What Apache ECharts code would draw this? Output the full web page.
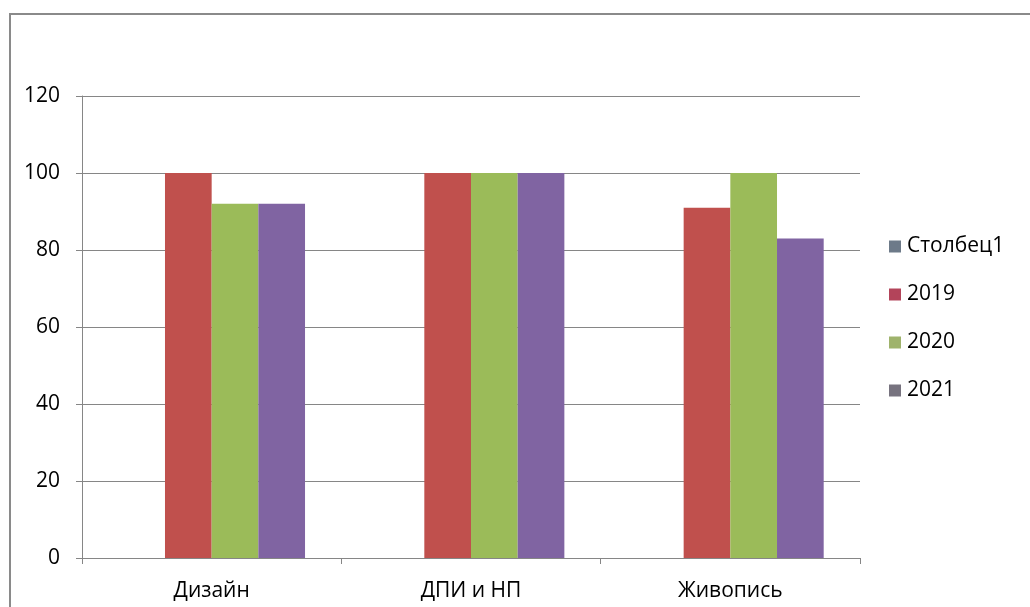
<!DOCTYPE html>
<html>
<head>
<meta charset="utf-8">
<style>
html, body { margin: 0; padding: 0; background: #fff; }
#chart-container { width: 1030px; height: 607px; }
</style>
<script src="https://cdn.jsdelivr.net/npm/echarts@6/dist/echarts.min.js"></script>
</head>
<body>
<div id="chart-container"></div>
<script>
var categories = ['Дизайн', 'ДПИ и НП', 'Живопись'];
var seriesNames = ['Столбец1', '2019', '2020', '2021'];
var col1 = [null, null, null];
var y2019 = [100, 100, 91];
var y2020 = [92, 100, 100];
var y2021 = [92, 100, 83];
var yTicks = [0, 20, 40, 60, 80, 100, 120];

var colors = ['#4F81BD', '#C0504D', '#9BBB59', '#8064A2'];
var legendColors = ['#6d7a89', '#b3445a', '#9fb36c', '#77737f'];
var font = '"Open Sans", "DejaVu Sans", sans-serif';

var dom = document.getElementById('chart-container');
var myChart = echarts.init(dom, null, { renderer: 'canvas' });

var values = [col1, y2019, y2020, y2021];

var option = {
	animation: false,
	backgroundColor: '#fff',
	graphic: [{
		type: 'rect',
		shape: { x: 10, y: 14, width: 1100, height: 700 },
		style: { fill: 'none', stroke: '#8a8a8a', lineWidth: 2 },
		silent: true
	}],
	legend: {
		orient: 'vertical',
		left: 889,
		top: 236,
		padding: 0,
		itemWidth: 12,
		itemHeight: 12,
		itemGap: 27,
		icon: 'rect',
		textStyle: { fontFamily: font, fontSize: 21, color: '#000', padding: [0, 0, 0, 1] },
		data: seriesNames.map((n, i) => ({ name: n, itemStyle: { color: legendColors[i] } }))
	},
	grid: {
		left: 82,
		right: 170,
		top: 96,
		bottom: 49
	},
	xAxis: {
		type: 'category',
		data: categories,
		axisLine: { lineStyle: { color: '#868686', width: 1 } },
		axisTick: { show: true, length: 6, lineStyle: { color: '#868686' } },
		axisLabel: { fontFamily: font, fontSize: 21, color: '#000', margin: 23 }
	},
	yAxis: {
		type: 'value',
		min: yTicks[0],
		max: yTicks[yTicks.length - 1],
		interval: 20,
		axisLine: { show: true, lineStyle: { color: '#868686', width: 1 } },
		axisTick: { show: true, length: 6, lineStyle: { color: '#868686' } },
		axisLabel: { fontFamily: font, fontSize: 21, color: '#000', margin: 22 },
		splitLine: { lineStyle: { color: '#868686', width: 1 } }
	},
	series: seriesNames.map((n, i) => ({
		name: n,
		type: 'bar',
		data: values[i],
		barGap: '0%',
		barCategoryGap: '28%',
		itemStyle: { color: colors[i] }
	}))
};

myChart.setOption(option);
window.addEventListener('resize', myChart.resize);
</script>
</body>
</html>
